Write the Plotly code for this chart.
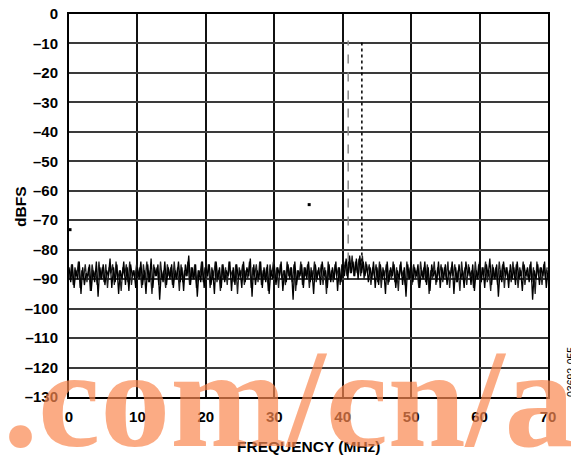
import numpy as np
import plotly.graph_objects as go

# noise floor, 0.25 MHz bins, 0..70 MHz (dBFS)
noise_dbfs = [
    -86, -91, -85, -93, -87, -90, -84, -95, -86, -92, -88, -89, -85, -94, -87, -91, -84, -96, -86, -90,
    -85, -92, -87, -89, -83, -93, -86, -91, -85, -95, -87, -90, -84, -92, -86, -94, -85, -89, -87, -93,
    -86, -90, -84, -92, -87, -95, -85, -91, -83, -93, -86, -89, -85, -97, -87, -91, -84, -92, -86, -90,
    -85, -93, -87, -90, -84, -91, -86, -94, -85, -89, -82, -92, -86, -90, -85, -96, -87, -91, -84, -93,
    -86, -89, -85, -92, -87, -95, -84, -90, -86, -93, -85, -91, -87, -89, -84, -94, -86, -92, -85, -90,
    -87, -93, -84, -91, -86, -89, -83, -96, -85, -92, -87, -90, -84, -93, -86, -91, -85, -95, -87, -90,
    -85, -92, -86, -89, -84, -94, -87, -91, -85, -90, -86, -97, -84, -92, -87, -89, -85, -93, -86, -90,
    -84, -91, -87, -95, -85, -90, -86, -92, -84, -89, -87, -93, -85, -91, -86, -90, -84, -94, -86, -91,
    -85, -89, -83, -90, -82, -88, -84, -89, -83, -90, -82, -88, -84, -89, -85, -91, -86, -90, -84, -93,
    -86, -92, -85, -90, -87, -95, -84, -91, -86, -89, -85, -93, -87, -90, -84, -92, -86, -96, -85, -90,
    -84, -91, -86, -89, -85, -93, -87, -90, -84, -92, -86, -94, -85, -89, -87, -91, -84, -93, -86, -90,
    -85, -92, -87, -89, -84, -95, -86, -91, -85, -90, -87, -93, -84, -89, -86, -92, -85, -94, -87, -90,
    -84, -91, -86, -93, -85, -89, -83, -92, -86, -90, -85, -96, -87, -91, -84, -89, -86, -93, -85, -90,
    -86, -92, -84, -90, -87, -94, -85, -89, -86, -91, -84, -97, -87, -90, -85, -92, -86, -89, -84, -93,
    -87,
]
# second capture, bins offset by 0.125 MHz
noise2_dbfs = [
    -90, -85, -92, -86, -89, -84, -93, -87, -90, -85, -91, -86, -94, -85, -89, -87, -92, -84, -90, -86,
    -91, -85, -93, -86, -88, -85, -92, -84, -90, -87, -94, -86, -89, -85, -91, -84, -92, -87, -90, -85,
    -89, -86, -93, -85, -90, -84, -91, -87, -95, -85, -89, -86, -92, -84, -90, -87, -93, -85, -89, -86,
    -92, -84, -90, -86, -94, -85, -91, -87, -89, -84, -92, -86, -90, -85, -93, -87, -89, -84, -91, -86,
    -90, -85, -93, -86, -89, -84, -91, -87, -94, -85, -90, -86, -92, -84, -89, -87, -91, -85, -95, -86,
    -89, -85, -92, -87, -90, -84, -93, -86, -89, -85, -91, -84, -92, -87, -90, -86, -94, -85, -89, -84,
    -91, -86, -93, -85, -90, -87, -92, -84, -89, -86, -91, -85, -94, -87, -90, -84, -92, -86, -89, -85,
    -93, -86, -90, -84, -91, -87, -89, -85, -92, -86, -95, -84, -90, -87, -91, -85, -89, -86, -92, -85,
    -88, -84, -89, -83, -88, -82, -89, -84, -88, -83, -89, -82, -90, -84, -88, -85, -92, -86, -89, -85,
    -91, -84, -93, -86, -89, -85, -92, -87, -90, -84, -91, -86, -94, -85, -89, -87, -92, -84, -90, -86,
    -92, -85, -90, -87, -93, -84, -89, -86, -91, -85, -95, -87, -90, -84, -92, -86, -89, -85, -91, -86,
    -90, -84, -93, -86, -89, -85, -91, -87, -94, -84, -90, -86, -92, -85, -89, -87, -93, -84, -90, -85,
    -92, -86, -89, -84, -91, -87, -94, -85, -90, -86, -92, -84, -89, -85, -93, -86, -90, -87, -91, -84,
    -90, -85, -93, -86, -89, -84, -92, -87, -90, -85, -91, -86, -95, -84, -89, -86, -92, -85, -90, -86,
]
freq_mhz = np.arange(len(noise_dbfs)) * 0.25
freq2_mhz = np.arange(len(noise2_dbfs)) * 0.25 + 0.125

# the two input tones
tone_freqs = [40.8, 42.8]
tone_levels = [-9, -9]
tone_base = [-84, -84]

# isolated spurs
spur_freqs = [35.1, 0.15]
spur_levels = [-64.7, -73.2]

y_ticks = list(range(0, -131, -10))
y_labels = ["0"] + ["\u2013" + str(-v) for v in y_ticks[1:]]
x_ticks = list(range(0, 71, 10))

fig = go.Figure()
fig.add_trace(go.Scatter(x=freq2_mhz, y=noise2_dbfs, mode="lines",
                         line=dict(color="#222", width=1.3), hoverinfo="skip"))
fig.add_trace(go.Scatter(x=freq_mhz, y=noise_dbfs, mode="lines",
                         line=dict(color="black", width=1.3), hoverinfo="skip"))
fig.add_trace(go.Scatter(x=[tone_freqs[0]] * 2, y=[tone_base[0], tone_levels[0]], mode="lines",
                         line=dict(color="#888", width=1.5, dash="dash")))
fig.add_trace(go.Scatter(x=[tone_freqs[1]] * 2, y=[tone_base[1], tone_levels[1]], mode="lines",
                         line=dict(color="black", width=1.5, dash="dot")))
fig.add_trace(go.Scatter(x=spur_freqs, y=spur_levels, mode="markers",
                         marker=dict(color="black", size=3, symbol="square")))

tick_font = dict(family="Liberation Sans", size=15, color="black", weight="bold")
title_font = dict(family="Liberation Sans", size=15.5, color="black", weight="bold")
# page body has an 8px margin, so the figure is offset by 8px in the window
fig.update_layout(
    width=579, height=456,
    margin=dict(l=61, r=39, t=6, b=67, autoexpand=False),
    plot_bgcolor="white", paper_bgcolor="white",
    showlegend=False,
    xaxis=dict(range=[0, 70], tickvals=x_ticks, showgrid=True, gridcolor="#111", gridwidth=1.5,
               showline=True, mirror=True, linecolor="black", linewidth=2, zeroline=False,
               automargin=False, ticklabeloverflow="allow",
               ticks="outside", ticklen=5, tickcolor="rgba(0,0,0,0)", tickfont=tick_font),
    yaxis=dict(range=[-130, 0], tickvals=y_ticks, ticktext=y_labels, showgrid=True,
               gridcolor="#3a3a3a", gridwidth=2, showline=True, mirror=True, linecolor="black",
               linewidth=2, zeroline=False, automargin=False, ticklabeloverflow="allow",
               ticks="outside", ticklen=6,
               tickcolor="rgba(0,0,0,0)", tickfont=tick_font),
    annotations=[
        dict(text="dBFS", x=(20 - 69) / 479, y=(397 - 207) / 383, xref="paper", yref="paper",
             showarrow=False, textangle=-90, xanchor="center", yanchor="middle", font=title_font),
        dict(text="FREQUENCY (MHz)", x=0.5, y=-0.128, xref="paper", yref="paper", showarrow=False,
             xanchor="center", yanchor="middle", font=title_font),
        dict(text=".com/cn/a", x=0.459, y=-0.005, xref="paper", yref="paper", showarrow=False,
             xanchor="center", yanchor="middle", font=dict(family="Liberation Serif", size=140,
                                         color="rgba(250,135,80,0.7)", weight="bold")),
        dict(text="03692-055", x=(571 - 69) / 479, y=(397 - 372) / 383, xref="paper", yref="paper",
             showarrow=False, textangle=-90, xanchor="center", yanchor="middle",
             font=dict(family="Liberation Sans", size=10.5, color="black")),
    ],
)

fig.write_html("out.html")
